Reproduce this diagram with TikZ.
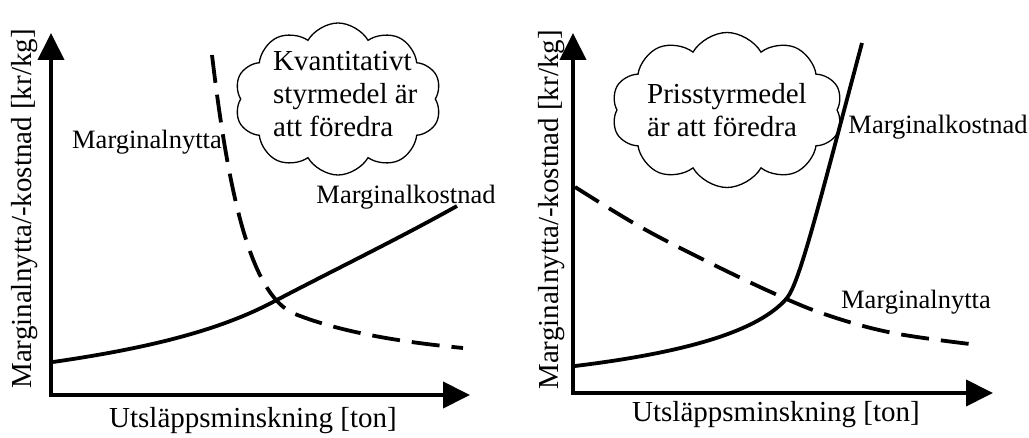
\documentclass[tikz,border=0pt]{standalone}
\usepackage{fontspec}
\setmainfont{Liberation Serif}
\usetikzlibrary{arrows.meta,shapes.symbols}
\begin{document}
\begin{tikzpicture}[x=1pt,y=-1pt,
 axis/.style={line width=4pt, line join=miter, {Triangle[length=27pt,width=26pt]}-{Triangle[length=27pt,width=26pt]}},
 curve/.style={line width=3.8pt},
 dcurve/.style={line width=3.8pt, dash pattern=on 28pt off 12pt},
 lab/.style={font=\fontsize{26.5}{30}\selectfont, inner sep=0},
 axlab/.style={font=\fontsize{29}{33}\selectfont, inner sep=0},
 cloudbox/.style={cloud, draw, line width=1.3pt, cloud puffs=10, cloud puff arc=120, inner sep=0},
 cloudtext/.style={font=\fontsize{29}{33}\selectfont, inner sep=0, align=left, anchor=west}]
\useasboundingbox (0,0) rectangle (1029,438);
% ---------- left panel ----------
\coordinate (LO) at (51,395);
\coordinate (LY) at (51,33);
\coordinate (LX) at (470,395);
\node[cloudbox, aspect=1.36, minimum width=207pt, minimum height=152pt] (Lcloud) at (338,99) {};
\node[cloudtext] (Lctext) at (273,94.5) {Kvantitativt\\styrmedel är\\att föredra};
\draw[axis] (LY) -- (LO) -- (LX);
\draw[curve] (53,362) .. controls (150,348) and (220,330) .. (273,302)
                      .. controls (330,272) and (400,238) .. (457,206);
\draw[dcurve] (212,55) .. controls (228,190) and (250,296) .. (295,314)
                       .. controls (340,332) and (400,342) .. (463,348);
\node[lab] (Lnytta) at (147,142) {Marginalnytta};
\node[lab] (Lkost) at (406,197) {Marginalkostnad};
\node[axlab, rotate=90] (Lylab) at (25,209) {Marginalnytta/-kostnad [kr/kg]};
\node[axlab] (Lxlab) at (253,421) {Utsläppsminskning [ton]};
% ---------- right panel ----------
\coordinate (RO) at (573,393);
\coordinate (RY) at (573,33);
\coordinate (RX) at (993,393);
\node[cloudbox, aspect=1.49, minimum width=231pt, minimum height=155pt] (Rcloud) at (727,110) {};
\node[cloudtext] (Rctext) at (647,110) {Prisstyrmedel\\är att föredra};
\draw[axis] (RY) -- (RO) -- (RX);
\draw[curve] (575,366) .. controls (690,352) and (760,330) .. (787,298)
                       .. controls (800,282) and (820,200) .. (862,43);
\draw[dcurve] plot[smooth, tension=0.6] coordinates {(575,187) (637,225) (700,258) (773,293) (827,315) (893,333) (978,345)};
\node[lab] (Rkost) at (938,127) {Marginalkostnad};
\node[lab] (Rnytta) at (916,302) {Marginalnytta};
\node[axlab, rotate=90] (Rylab) at (552,210) {Marginalnytta/-kostnad [kr/kg]};
\node[axlab] (Rxlab) at (776,415) {Utsläppsminskning [ton]};
\end{tikzpicture}
\end{document}
